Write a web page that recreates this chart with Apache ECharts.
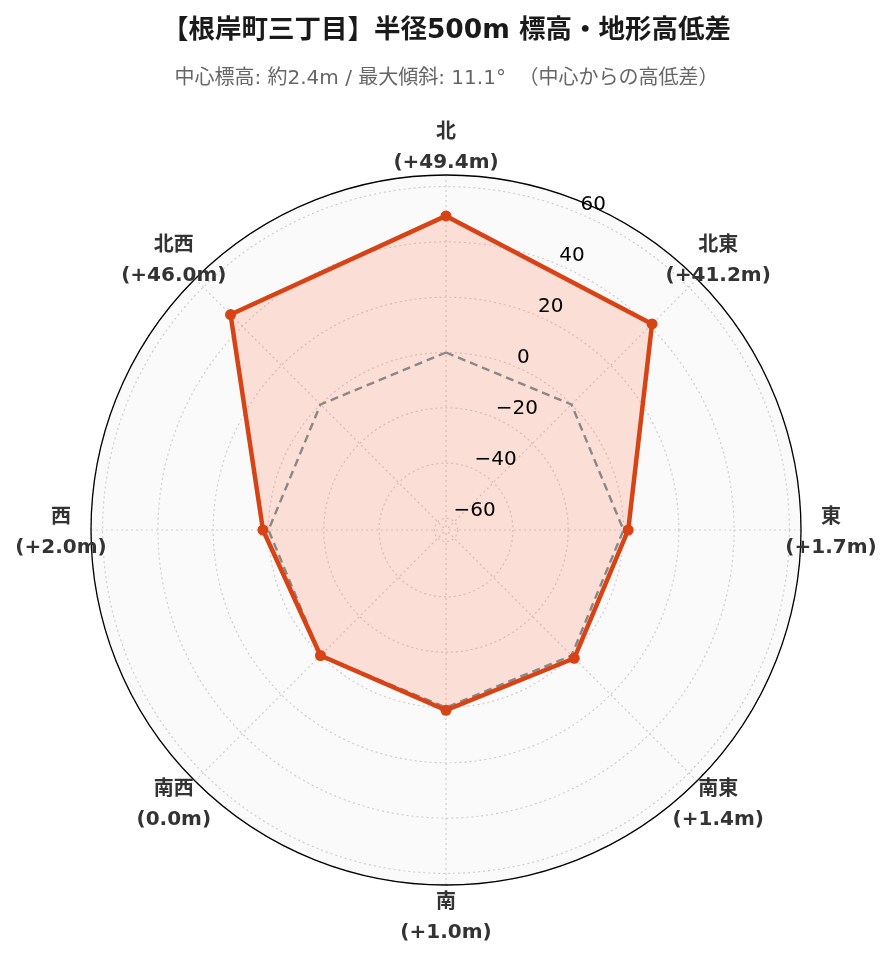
<!DOCTYPE html>
<html><head><meta charset="utf-8">
<script src="https://cdn.jsdelivr.net/npm/echarts@6/dist/echarts.min.js"></script>
<style>html,body{margin:0;padding:0;background:#fff}#c{width:893px;height:962px}</style>
</head><body><div id="c"></div>
<script>
const directions = ['北', '北東', '東', '南東', '南', '南西', '西', '北西'];
const angles = [0, 45, 90, 135, 180, 225, 270, 315];
const elevDiff = [49.4, 41.2, 1.7, 1.4, 1.0, 0.0, 2.0, 46.0];
const referenceLevel = [0, 0, 0, 0, 0, 0, 0, 0];
const radialTicks = [-60, -40, -20, 0, 20, 40, 60];
const rLimit = 64.2;

const FONT = "'DejaVu Sans', 'Noto Sans CJK JP', sans-serif";
const mainColor = '#d84315';
const CENTER = [446, 530], RADIUS = 355, LABEL_PX = 385;
const labelR = -rLimit + (LABEL_PX / RADIUS) * 2 * rLimit;

function closed(vals) {
  const d = vals.map((v, i) => [v, angles[i]]);
  d.push({ value: [vals[0], 360], symbol: 'none' });
  return d;
}
function dirLabel(i) {
  const v = elevDiff[i];
  const s = (v > 0 ? '+' : '') + v.toFixed(1) + 'm';
  return directions[i] + '\n(' + s + ')';
}
const gridLine = { color: '#cfcfcf', type: [2, 3], width: 1.2 };

const chart = echarts.init(document.getElementById('c'), null, { renderer: 'canvas' });
const option = {
  backgroundColor: '#ffffff',
  animation: false,
  title: [
    { text: '【根岸町三丁目】半径500m 標高・地形高低差', left: 'center', top: 13,
      textStyle: { fontFamily: FONT, fontSize: 26.5, fontWeight: 'bold', color: '#1a1a1a' } },
    { text: '中心標高: 約2.4m / 最大傾斜: 11.1°  （中心からの高低差）', left: 'center', top: 64,
      textStyle: { fontFamily: FONT, fontSize: 20, fontWeight: 'normal', color: '#666666' } }
  ],
  polar: [
    { center: CENTER, radius: RADIUS },
    { center: CENTER, radius: RADIUS },
    { center: CENTER, radius: RADIUS }
  ],
  angleAxis: [
    { polarIndex: 0, type: 'value', min: 0, max: 360, interval: 45, startAngle: 90, clockwise: true, z: 1,
      axisLine: { show: true, lineStyle: { color: '#000', width: 1.3 } },
      axisTick: { show: false },
      axisLabel: { show: false },
      splitLine: { show: true, lineStyle: gridLine },
      splitArea: { show: false }
    },
    { polarIndex: 1, type: 'value', min: 0, max: 360, startAngle: 67.5, clockwise: true, z: 1,
      axisLine: { show: false }, axisTick: { show: false }, axisLabel: { show: false }, splitLine: { show: false } },
    { polarIndex: 2, type: 'value', min: 0, max: 360, interval: 180, startAngle: 90, clockwise: true, z: 0,
      axisLine: { show: false }, axisTick: { show: false }, axisLabel: { show: false }, splitLine: { show: false },
      splitArea: { show: true, areaStyle: { color: ['#fafafa', '#fafafa'] } } }
  ],
  radiusAxis: [
    { polarIndex: 0, type: 'value', min: -rLimit, max: rLimit, splitNumber: 6, z: 1,
      axisLine: { show: false }, axisTick: { show: false }, axisLabel: { show: false },
      splitLine: { show: true, lineStyle: gridLine }
    },
    { polarIndex: 1, type: 'value', min: -rLimit, max: rLimit, splitNumber: 6, z: 5,
      axisLine: { show: false }, axisTick: { show: false }, splitLine: { show: false },
      axisLabel: {
        show: true, margin: 0, align: 'left', verticalAlign: 'bottom', rotate: 0,
        showMinLabel: false, showMaxLabel: false,
        fontFamily: FONT, fontSize: 20, lineHeight: 16, color: '#000', padding: [0, 0, 0, 3],
        formatter: function (v) {
          return radialTicks.indexOf(Math.round(v)) >= 0 && Math.abs(v - Math.round(v)) < 1e-6
            ? String(Math.round(v)).replace('-', '\u2212') : '';
        }
      }
    },
    { polarIndex: 2, type: 'value', min: -rLimit, max: rLimit, z: 0,
      axisLine: { show: false }, axisTick: { show: false }, axisLabel: { show: false }, splitLine: { show: false } }
  ],
  series: [
    { type: 'line', coordinateSystem: 'polar', polarIndex: 0, z: 2,
      data: closed(elevDiff), symbol: 'none', silent: true,
      lineStyle: { width: 0, opacity: 0 },
      areaStyle: { color: 'rgba(255,112,67,0.2)', opacity: 1, origin: 'start' }
    },
    { type: 'line', coordinateSystem: 'polar', polarIndex: 0, z: 3,
      data: closed(referenceLevel), symbol: 'none', silent: true,
      lineStyle: { color: '#888888', width: 2.4, type: [8, 5] }
    },
    { type: 'line', coordinateSystem: 'polar', polarIndex: 0, z: 4,
      data: closed(elevDiff),
      symbol: 'circle', symbolSize: 11,
      itemStyle: { color: mainColor },
      lineStyle: { color: mainColor, width: 4.5 }
    },
    { type: 'scatter', coordinateSystem: 'polar', polarIndex: 0, z: 6, clip: false, silent: true,
      symbolSize: 0,
      itemStyle: { opacity: 1, color: 'rgba(0,0,0,0)' },
      data: angles.map((a, i) => [labelR, a]),
      label: {
        show: true, position: 'inside', align: 'center', verticalAlign: 'middle', offset: [0, 3],
        opacity: 1,
        fontFamily: FONT, fontSize: 20, fontWeight: 'bold', color: '#333333', lineHeight: 30,
        formatter: function (p) { return dirLabel(p.dataIndex); }
      }
    }
  ]
};
chart.setOption(option);
</script>
</body></html>
